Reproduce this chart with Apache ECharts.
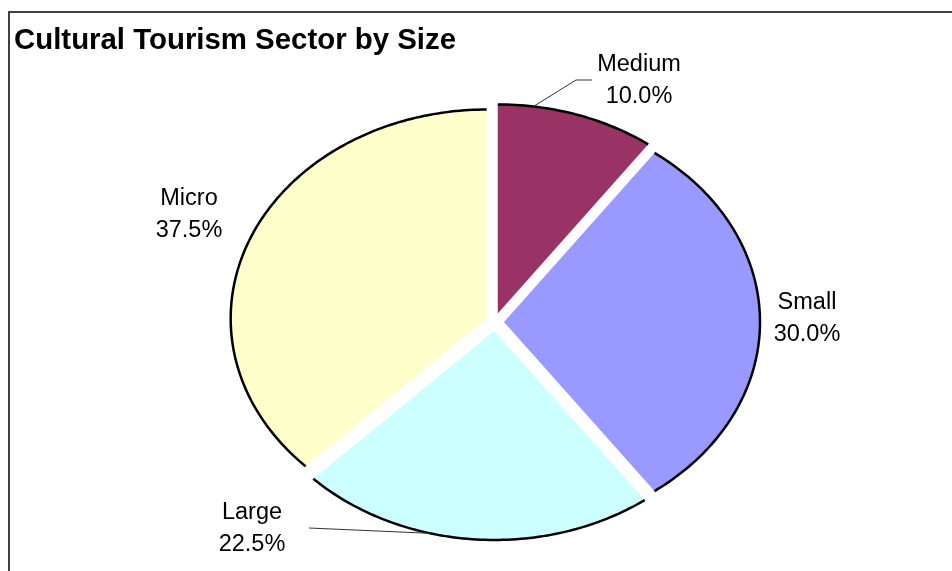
<!DOCTYPE html>
<html>
<head>
<meta charset="utf-8">
<title>Cultural Tourism Sector by Size</title>
<script src="https://cdn.jsdelivr.net/npm/echarts@6/dist/echarts.min.js"></script>
<style>
  html, body { margin: 0; padding: 0; background: #ffffff; }
  #chart { width: 952px; height: 571px; }
</style>
</head>
<body>
<div id="chart"></div>
<script>
// Slices, clockwise from 12 o'clock
const categories = ['Medium', 'Small', 'Large', 'Micro'];
const shares = [10.0, 30.0, 22.5, 37.5];
const sliceColors = ['#993366', '#9999FF', '#CCFFFF', '#FFFFCC'];

// Elliptical pie geometry (pixels)
const pieGeom = { cx: 495, cy: 322, rx: 256, ry: 209, explode: 9, startDeg: 0 };
// Label anchor (centre of the two-line label) per slice
const labelAnchors = [[639, 81], [807, 319], [252, 529], [189, 215]];
// Leader lines: polyline from the label toward a point on the slice rim (angle in degrees)
const leaders = [
  { slice: 0, from: [[592, 80], [576, 80]], angle: 8 },
  { slice: 2, from: [[309, 528]], angle: 194.5 }
];

const total = shares.reduce((a, b) => a + b, 0);
let running = 0;
const seriesData = shares.map((v, i) => {
  const item = { name: categories[i], value: [running, v, i] };
  running += v;
  return item;
});

const rad = d => d * Math.PI / 180;

function sliceOffset(startVal, val) {
  const mid = pieGeom.startDeg + (startVal + val / 2) / total * 360;
  return [pieGeom.explode * Math.sin(rad(mid)), -pieGeom.explode * Math.cos(rad(mid))];
}

function rimPoint(deg, off) {
  return [
    pieGeom.cx + off[0] + pieGeom.rx * Math.sin(rad(deg)),
    pieGeom.cy + off[1] - pieGeom.ry * Math.cos(rad(deg))
  ];
}

function renderSlice(params, api) {
  const startVal = api.value(0);
  const val = api.value(1);
  const idx = api.value(2);
  const a0 = pieGeom.startDeg + startVal / total * 360;
  const a1 = pieGeom.startDeg + (startVal + val) / total * 360;
  const off = sliceOffset(startVal, val);

  const arc = [];
  const steps = Math.max(8, Math.ceil(a1 - a0));
  for (let k = 0; k <= steps; k++) {
    arc.push(rimPoint(a0 + (a1 - a0) * k / steps, off));
  }
  const tip = [pieGeom.cx + off[0], pieGeom.cy + off[1]];

  const children = [
    {
      type: 'polygon',
      shape: { points: [tip].concat(arc) },
      style: { fill: sliceColors[idx], stroke: null }
    },
    {
      type: 'polyline',
      shape: { points: arc },
      style: { fill: null, stroke: '#000000', lineWidth: 2.5 }
    }
  ];

  leaders.filter(l => l.slice === idx).forEach(l => {
    children.push({
      type: 'polyline',
      shape: { points: l.from.concat([rimPoint(l.angle, off)]) },
      style: { fill: null, stroke: '#333333', lineWidth: 1 }
    });
  });

  const pos = labelAnchors[idx];
  const pct = (val / total * 100).toFixed(1) + '%';
  children.push({
    type: 'text',
    x: pos[0],
    y: pos[1],
    style: {
      text: categories[idx] + '\n' + pct,
      fill: '#000000',
      font: '23.5px "Liberation Sans", Arial, sans-serif',
      lineHeight: 32,
      align: 'center',
      verticalAlign: 'middle',
      textAlign: 'center',
      textVerticalAlign: 'middle'
    }
  });

  return { type: 'group', children: children };
}

const chart = echarts.init(document.getElementById('chart'), null, { renderer: 'canvas' });
chart.setOption({
  backgroundColor: '#ffffff',
  animation: false,
  graphic: [
    {
      type: 'rect',
      shape: { x: 9, y: 12, width: 1000, height: 700 },
      style: { fill: null, stroke: '#404040', lineWidth: 2 },
      silent: true
    },
    {
      type: 'text',
      x: 14,
      y: 41,
      style: {
        text: 'Cultural Tourism Sector by Size',
        fill: '#000000',
        font: 'bold 29.4px "Liberation Sans", Arial, sans-serif',
        verticalAlign: 'middle',
        textVerticalAlign: 'middle'
      },
      silent: true
    }
  ],
  series: [{
    type: 'custom',
    coordinateSystem: 'none',
    renderItem: renderSlice,
    data: seriesData,
    silent: true
  }]
});
</script>
</body>
</html>
